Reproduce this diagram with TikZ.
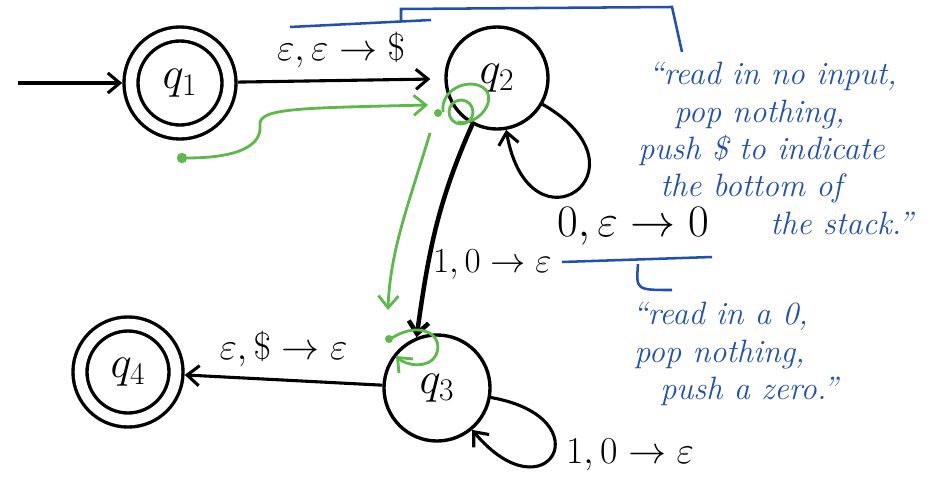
\RequirePackage{fix-cm}
\documentclass[tikz,border=0pt]{standalone}
\usepackage{tikz}
\usetikzlibrary{automata, positioning, arrows.meta}
\usepackage{xcolor}
\usepackage{amsmath}
\definecolor{inkBlue}{HTML}{2150B0}
\definecolor{inkGreen}{HTML}{5DB94A}

\begin{document}
\begin{tikzpicture}[
    x=0.025cm, y=-0.025cm,
    ->,>={Straight Barb[length=3mm,width=5mm]},
    every state/.style={draw=black, line width=2.4pt, minimum size=2.5cm, inner sep=0pt, font=\fontsize{32}{36}\selectfont},
    accepting/.style={double, double distance=0.265cm, outer sep=0.22cm},
    initial text={}, initial distance=2.6cm,
    every initial by arrow/.style={line width=2.2pt},
    every edge/.style={draw=black, line width=2.2pt},
    lbl/.style={font=\fontsize{27}{32}\selectfont, inner sep=2pt},
    note/.style={text=inkBlue, font=\fontsize{23}{26.6}\selectfont\itshape, align=left, anchor=north west, inner sep=0pt},
    ink/.style={draw=inkBlue, line width=1.8pt, -},
    trace/.style={draw=inkGreen, line width=2pt}
]
    \useasboundingbox (0,0) rectangle (952,480);

    \node[state, initial, accepting, minimum size=2.45cm] (q1) at (180,83) {$q_1$};
    \node[state, minimum size=2.55cm] (q2) at (497,78) {$q_2$};
    \node[state, minimum size=2.65cm] (q3) at (437,388) {$q_3$};
    \node[state, accepting, minimum size=2.4cm] (q4) at (128,372) {$q_4$};

    % loop labels sit away from the loops
    \node[lbl, font=\fontsize{32}{36}\selectfont] (lblPush) at (633,226) {$0,\varepsilon\to0$};
    \node[lbl] (lblPop) at (630,455) {$1,0\to\varepsilon$};

    \path (q1) edge[shorten >=0.35cm] node[lbl, above=6pt]{$\varepsilon,\varepsilon\to\$$} (q2)
          (q2) edge[out=-30, in=-80, min distance=3.3cm] (q2)
          (q2.-118) edge[line width=3.2pt, out=-114, in=82] node[lbl, font=\fontsize{25}{30}\selectfont, inner sep=0pt, right=2pt, pos=0.68]{$1,0\to\varepsilon$} (q3.112)
          (q3) edge[out=-10, in=-50, min distance=2.9cm] (q3)
          (q3) edge node[lbl, above=6pt]{$\varepsilon,\$\to\varepsilon$} (q4);

    % blue notes
    \draw[ink] (290,27) -- (431,20);
    \draw[ink] (401,21) -- (401,9) -- (672,7) .. controls (676,25) .. (682,52);
    \node[note] (noteDollar) at (638,62) {\hspace*{0.25cm}``read in no input,\\\hspace*{0.9cm}pop nothing,\\push \$ to indicate\\\hspace*{0.55cm}the bottom of\\\hspace*{3.3cm}the stack.''};
    \draw[ink] (562,262) -- (712,257);
    \draw[ink] (638,264) .. controls (636,290) .. (672,290);
    \node[note] (noteZero) at (632,302) {``read in a 0,\\\hspace*{0.05cm}pop nothing,\\\hspace*{0.7cm}push a zero.''};

    % green trace
    \fill[inkGreen] (182,158) circle (0.13cm);
    \draw[trace] (186,158) .. controls (240,158) and (262,145) .. (260,125)
        .. controls (258,108) and (300,108) .. (428,105);
    \fill[inkGreen] (438,113) circle (0.1cm);
    \draw[trace, -] (443,112) .. controls (440,88) and (472,76) .. (486,90)
        .. controls (496,104) and (476,126) .. (458,122);
    \draw[trace, -] (461,112) circle (0.3cm);
    \draw[trace] (430,133) .. controls (410,200) and (390,250) .. (388,310);
    \fill[inkGreen] (389,339) circle (0.1cm);
    \draw[trace] (392,338) .. controls (420,320) and (445,335) .. (436,355)
        .. controls (428,370) and (405,365) .. (396,356);
\end{tikzpicture}
\end{document}
